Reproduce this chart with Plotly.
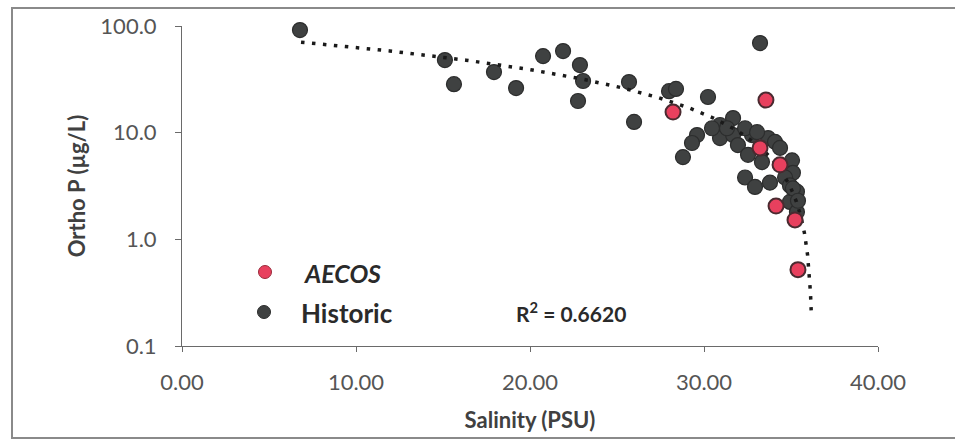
import numpy as np
import plotly.graph_objects as go

# ---- data ----
historic_salinity = [6.78, 15.11, 15.63, 17.93, 19.20, 20.75, 21.90, 22.87, 23.05, 22.76,
                     25.69, 25.98, 27.99, 28.39, 30.23, 33.22, 29.60, 29.31, 28.79, 30.92,
                     30.92, 31.67, 31.67, 31.95, 32.76, 33.68, 34.08, 32.53, 33.33, 35.06,
                     35.11, 32.36, 32.93, 33.79, 34.66, 34.94, 35.34, 34.94, 35.34, 31.32,
                     30.46, 32.36, 33.05, 34.37, 35.11, 35.40]
historic_orthoP = [91.6, 47.9, 28.5, 37.0, 26.2, 52.2, 58.2, 43.0, 30.5, 19.8,
                   29.8, 12.6, 24.5, 25.7, 21.6, 69.2, 9.5, 8.0, 5.9, 11.8,
                   8.9, 13.7, 9.5, 7.65, 9.5, 8.9, 8.2, 6.2, 5.3, 5.5,
                   4.2, 3.8, 3.1, 3.4, 3.8, 3.2, 2.8, 2.24, 1.8, 11.0,
                   11.0, 11.0, 10.1, 7.2, 3.0, 2.3]

aecos_salinity = [28.22, 33.56, 33.22, 34.37, 34.14, 35.23, 35.40]
aecos_orthoP = [15.6, 20.2, 7.2, 5.0, 2.05, 1.52, 0.52]

# linear trendline (as displayed in the chart)
trend_intercept = 87.0
trend_slope = -2.40
trend_salinity_range = [6.84, 36.16]
r_squared_label = "R<sup>2</sup> = 0.6620"

x_tick_vals = [0, 10, 20, 30, 40]
x_tick_text = ["0.00", "10.00", "20.00", "30.00", "40.00"]
y_tick_vals = [0.1, 1, 10, 100]
y_tick_text = ["0.1", "1.0", "10.0", "100.0"]

legend_labels = ["<i>AECOS</i>", "Historic"]

# ---- styling ----
FONT = "Lato"
RED = "#e8405e"
RED_EDGE = "#4a2a30"
DARK = "#3f4141"
DARK_EDGE = "#2c2d2d"
AXIS = "#6a6a6a"

trend_x = np.concatenate([np.linspace(trend_salinity_range[0], 35.0, 200),
                          np.linspace(35.0, trend_salinity_range[1], 300)[1:]])
trend_y = trend_intercept + trend_slope * trend_x

fig = go.Figure()
fig.add_trace(go.Scatter(
    x=historic_salinity, y=historic_orthoP, mode="markers", name="Historic",
    marker=dict(size=15, color=DARK, line=dict(color=DARK_EDGE, width=1.2)),
    showlegend=False, cliponaxis=False))
fig.add_trace(go.Scatter(
    x=trend_x, y=trend_y, mode="lines", name="Trend",
    line=dict(color="#1a1a1a", width=3.5, dash="3.5px,7.5px"),
    showlegend=False, hoverinfo="skip"))
fig.add_trace(go.Scatter(
    x=aecos_salinity, y=aecos_orthoP, mode="markers", name="AECOS",
    marker=dict(size=15, color=RED, line=dict(color=RED_EDGE, width=2)),
    showlegend=False, cliponaxis=False))

L, R, T, B = 182, 77, 26, 96
W, H = 955, 442
pw, ph = W - L - R, H - T - B


def px_x(p):
    return (p - L) / pw


def px_y(p):
    return (H - B - p) / ph


shapes = [
    # outer chart frame
    dict(type="rect", xref="paper", yref="paper",
         x0=px_x(12), x1=px_x(1000), y0=px_y(438), y1=px_y(8),
         line=dict(color="#8a8a8a", width=2), fillcolor="rgba(0,0,0,0)", layer="below"),
    # legend markers
    dict(type="circle", xref="paper", yref="paper", xsizemode="pixel", ysizemode="pixel",
         xanchor=px_x(265), yanchor=px_y(272), x0=-6.5, x1=6.5, y0=-6.5, y1=6.5,
         fillcolor=RED, line=dict(color="#9a2a3a", width=1)),
    dict(type="circle", xref="paper", yref="paper", xsizemode="pixel", ysizemode="pixel",
         xanchor=px_x(264), yanchor=px_y(312), x0=-6.5, x1=6.5, y0=-6.5, y1=6.5,
         fillcolor=DARK, line=dict(color=DARK_EDGE, width=1)),
]

annotations = [
    dict(text=f"<b>{legend_labels[0]}</b>", xref="paper", yref="paper",
         x=px_x(302), y=px_y(273), xanchor="left", yanchor="middle", showarrow=False,
         font=dict(family=FONT, size=25, color="#2a2a2a")),
    dict(text=f"<b>{legend_labels[1]}</b>", xref="paper", yref="paper",
         x=px_x(299), y=px_y(313), xanchor="left", yanchor="middle", showarrow=False,
         font=dict(family=FONT, size=26, color="#2a2a2a")),
    dict(text=f"<b>{r_squared_label}</b>", xref="paper", yref="paper",
         x=px_x(571), y=px_y(312), xanchor="center", yanchor="middle", showarrow=False,
         font=dict(family=FONT, size=21, color="#2a2a2a")),
]

fig.update_layout(
    width=W, height=H, autosize=False,
    margin=dict(l=L, r=R, t=T, b=B, pad=0),
    paper_bgcolor="white", plot_bgcolor="white",
    font=dict(family=FONT, color="#555555"),
    shapes=shapes, annotations=annotations,
    xaxis=dict(range=[0, 40], tickvals=x_tick_vals, ticktext=x_tick_text,
               showgrid=False, zeroline=False, showline=True, linecolor=AXIS, linewidth=1,
               ticks="outside", ticklen=5, tickcolor=AXIS, ticklabelstandoff=12,
               tickfont=dict(family=FONT, size=22, color="#555555"),
               title=dict(text="<b>Salinity (PSU)</b>", standoff=18,
                          font=dict(family=FONT, size=22, color="#404040"))),
    yaxis=dict(type="log", range=[-1, 2], tickvals=y_tick_vals, ticktext=y_tick_text,
               showgrid=False, zeroline=False, showline=True, linecolor=AXIS, linewidth=1,
               ticks="outside", ticklen=6, tickcolor=AXIS, ticklabelstandoff=14,
               tickfont=dict(family=FONT, size=22, color="#555555"),
               title=dict(text="<b>Ortho P (µg/L)</b>", standoff=8,
                          font=dict(family=FONT, size=22, color="#404040"))),
)

fig.write_html("out.html")
